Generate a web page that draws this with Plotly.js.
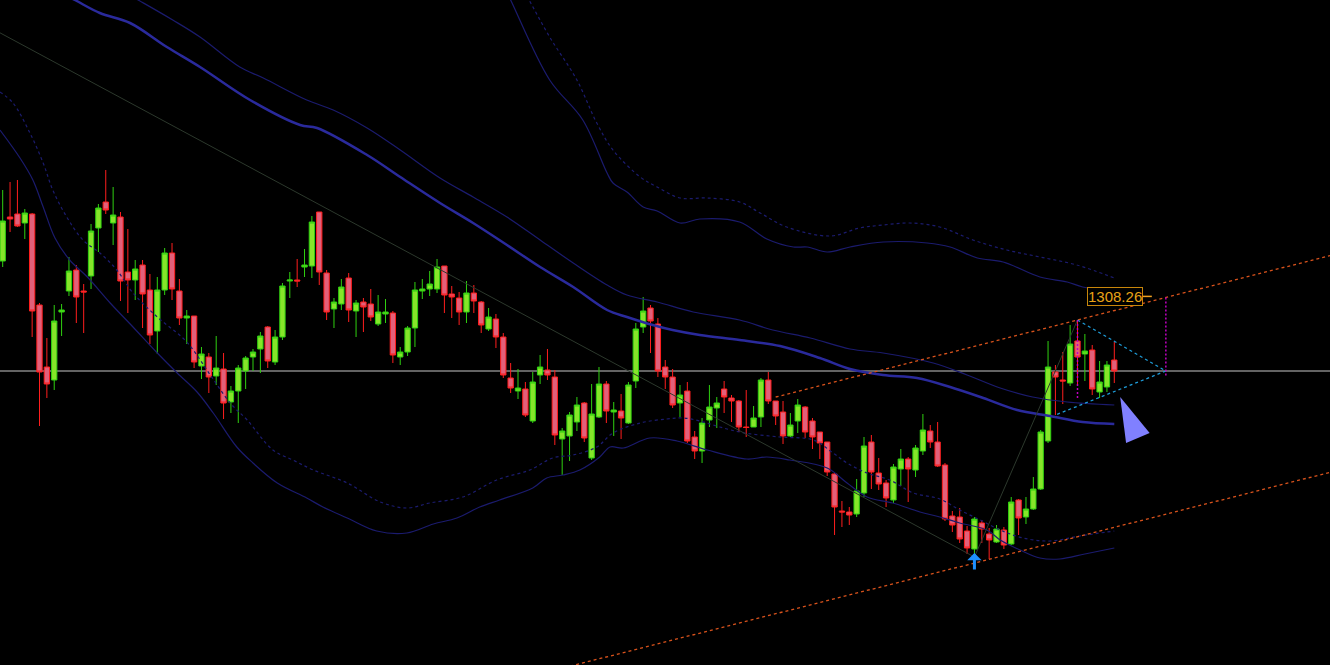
<!DOCTYPE html>
<html><head><meta charset="utf-8">
<script src="https://cdn.plot.ly/plotly-3.0.1.min.js"></script>
<style>html,body{margin:0;padding:0;background:#000;overflow:hidden}#chart{width:1330px;height:665px}</style>
</head><body><div id="chart"></div>
<script>
// ---- candles (bar index 0..151) ----
const opens = [
1311.9,1316.3,1316.6,1315.7,1316.6,1307.5,1301.3,1300.0,1306.8,1308.9,
1311.0,1308.9,1310.4,1315.2,1317.8,1315.7,1316.3,1310.8,1310.0,1311.5,
1309.0,1304.9,1309.0,1312.7,1308.9,1306.2,1306.4,1301.4,1302.3,1300.4,
1301.1,1297.8,1298.9,1300.9,1302.3,1303.1,1305.3,1301.8,1304.3,1309.9,
1310.0,1311.3,1311.4,1316.8,1310.7,1307.1,1307.6,1310.2,1306.9,1307.8,
1307.6,1305.6,1306.6,1306.7,1302.3,1302.8,1305.2,1308.9,1309.1,1309.1,
1311.4,1308.6,1308.2,1306.8,1308.7,1307.8,1305.1,1306.1,1304.3,1300.2,
1298.9,1299.1,1295.9,1300.5,1301.0,1300.3,1294.1,1294.4,1295.8,1297.7,
1292.2,1296.3,1299.6,1296.8,1296.9,1295.7,1299.9,1305.3,1307.2,1305.6,
1301.3,1300.3,1297.7,1298.9,1294.3,1292.9,1296.0,1297.2,1299.1,1298.2,
1297.9,1295.3,1295.3,1296.3,1300.0,1297.9,1296.8,1294.4,1295.9,1297.3,
1295.9,1294.8,1293.8,1290.6,1286.9,1286.8,1286.6,1288.7,1293.8,1290.7,
1289.7,1288.0,1291.1,1292.1,1291.0,1292.9,1294.9,1293.8,1291.5,1286.4,
1286.3,1284.9,1283.1,1285.7,1284.6,1283.8,1285.0,1283.6,1288.0,1286.3,
1287.1,1289.1,1293.9,1300.8,1300.0,1299.7,1303.9,1302.6,1303.0,1298.8,
1299.3,1302.0];
const closes = [
1315.9,1316.1,1315.4,1316.7,1306.9,1300.8,1299.6,1305.9,1307.0,1310.9,
1308.3,1308.8,1314.9,1317.2,1317.0,1316.5,1309.9,1310.0,1311.1,1308.6,
1304.5,1309.0,1312.7,1309.1,1306.2,1306.4,1301.8,1302.6,1300.3,1301.2,
1297.7,1298.9,1301.2,1302.2,1302.8,1304.4,1301.9,1304.3,1309.4,1310.0,
1309.9,1311.5,1315.8,1310.8,1306.8,1307.8,1309.3,1307.0,1307.7,1307.3,
1306.3,1306.8,1306.8,1302.5,1302.8,1305.2,1309.0,1309.1,1309.6,1311.3,
1308.5,1308.3,1306.8,1308.7,1307.9,1305.5,1306.3,1304.3,1300.5,1299.2,
1299.2,1296.5,1299.8,1301.3,1300.5,1294.5,1294.9,1296.5,1297.5,1294.2,
1296.6,1299.6,1296.9,1297.0,1296.2,1299.5,1305.1,1306.9,1305.9,1300.9,
1300.3,1297.5,1298.5,1293.9,1292.9,1295.7,1297.3,1297.7,1298.3,1297.9,
1295.3,1295.25,1296.2,1300.0,1297.9,1296.4,1294.4,1295.5,1297.5,1294.8,
1294.3,1293.7,1290.8,1287.3,1286.8,1286.5,1288.9,1293.4,1290.8,1289.6,
1288.2,1291.3,1292.1,1291.1,1293.2,1295.0,1293.8,1291.4,1286.1,1285.5,
1284.1,1283.2,1286.1,1285.1,1284.0,1285.1,1283.5,1287.8,1286.2,1287.1,
1289.1,1294.8,1301.3,1300.3,1299.9,1303.6,1302.3,1302.9,1299.1,1299.8,
1301.5,1300.9];
const highs = [
1319.0,1319.8,1320.0,1317.1,1316.7,1307.7,1304.2,1307.5,1307.6,1312.3,
1311.5,1309.6,1315.6,1317.6,1321.0,1319.3,1316.8,1315.1,1312.0,1312.0,
1310.6,1310.3,1313.2,1313.7,1310.1,1307.0,1306.4,1303.3,1302.7,1304.4,
1302.7,1299.4,1301.5,1302.4,1303.1,1304.8,1305.4,1305.0,1309.7,1310.8,
1312.1,1313.1,1316.4,1316.8,1311.0,1308.2,1310.1,1310.7,1308.0,1308.2,
1309.1,1308.5,1308.1,1306.9,1303.3,1305.4,1309.8,1310.1,1310.9,1312.1,
1311.4,1309.4,1308.8,1309.9,1309.5,1307.9,1307.2,1306.6,1304.7,1301.7,
1301.1,1299.8,1300.8,1302.5,1303.1,1301.0,1295.2,1296.8,1298.3,1297.8,
1299.6,1301.3,1299.9,1297.8,1298.6,1299.8,1305.7,1308.3,1307.5,1306.2,
1302.0,1301.1,1299.5,1299.8,1294.9,1296.2,1299.5,1298.3,1299.9,1298.5,
1298.0,1299.0,1297.4,1300.2,1300.8,1297.9,1297.9,1296.7,1298.1,1297.4,
1296.2,1294.8,1293.8,1290.7,1287.9,1287.3,1290.1,1294.3,1294.5,1292.2,
1290.0,1291.6,1293.1,1292.3,1293.5,1296.6,1295.5,1295.8,1291.7,1286.9,
1287.2,1285.4,1286.3,1286.0,1285.2,1285.5,1285.3,1288.3,1288.1,1288.3,
1290.3,1295.0,1303.9,1301.5,1302.8,1305.5,1306.0,1304.6,1303.5,1301.9,
1301.9,1303.8];
const lows = [
1311.3,1314.8,1315.3,1314.1,1304.3,1295.4,1298.2,1299.0,1304.4,1308.4,
1305.7,1304.7,1309.1,1312.8,1316.6,1313.5,1307.9,1306.7,1308.0,1305.2,
1303.6,1302.6,1308.5,1308.0,1305.5,1303.6,1301.2,1300.1,1298.7,1299.5,
1296.1,1296.7,1295.7,1299.1,1300.9,1300.7,1301.2,1301.5,1304.0,1308.2,
1309.3,1310.3,1310.2,1309.5,1306.0,1305.2,1307.0,1305.8,1304.3,1304.8,
1305.9,1305.4,1305.7,1301.7,1301.5,1302.4,1303.3,1308.1,1308.4,1308.7,
1306.7,1306.2,1305.5,1305.7,1306.7,1304.7,1304.9,1303.2,1300.2,1298.7,
1298.1,1296.3,1295.7,1299.6,1300.0,1293.5,1290.5,1291.9,1294.9,1293.8,
1292.0,1296.2,1295.7,1294.4,1294.1,1295.6,1299.2,1304.7,1302.7,1300.3,
1299.1,1297.2,1296.3,1293.7,1292.1,1291.7,1295.3,1295.2,1296.7,1295.8,
1294.8,1294.3,1295.3,1295.3,1297.6,1295.5,1293.6,1294.3,1294.7,1294.2,
1293.1,1292.1,1290.4,1284.5,1285.3,1285.5,1286.3,1288.3,1289.1,1289.0,
1287.3,1287.7,1289.4,1287.8,1290.3,1292.5,1293.2,1291.3,1285.9,1284.8,
1283.7,1282.6,1282.3,1283.7,1282.1,1283.7,1283.1,1283.5,1284.5,1285.6,
1287.0,1289.0,1293.7,1296.5,1297.6,1299.4,1299.6,1299.9,1298.5,1298.2,
1298.8,1299.7];

// ---- band indicator lines (sampled at bar positions) ----
const bandAX = [66.9,69.0,74.3,78.8,82.1,82.9,84.8,87.0,88.9,92.0,94.7,100.1,103.8,107.4,109.3,112.0,115.1,119.6,125.6,128.7,132.4,135.9,140.9,144.6,146.7,151];
const bandAY = [1341.3,1338.0,1330.0,1326.0,1320.7,1319.7,1318.8,1317.3,1316.9,1315.7,1316.1,1315.8,1314.1,1313.3,1313.3,1312.8,1313.3,1313.8,1313.7,1313.3,1312.2,1311.8,1310.3,1309.8,1309.3,1308.8];
const bandBX = [69.2,71.5,74.3,78.0,80.7,82.9,86.6,88.9,92.0,95.7,100.1,102.9,106.5,112.4,116.4,119.6,123.2,127.3,131.8,136.4,140.9,145.9,151];
const bandBY = [1341.0,1338.0,1334.3,1330.0,1325.7,1323.0,1320.3,1319.3,1318.2,1318.2,1317.8,1316.7,1315.3,1314.4,1315.2,1315.5,1315.7,1315.3,1314.0,1313.0,1312.3,1311.5,1310.2];
const bandCX = [14.8,18.4,23.1,26.8,32.2,35.4,41.3,44.9,49.5,54.0,59.4,63.9,68.5,73.0,77.5,82.1,84.8,88.9,93.8,100.1,104.6,109.7,115.1,119.6,126.4,131.0,135.5,139.9,144.6,151];
const bandCY = [1339.5,1338.0,1336.0,1334.3,1331.3,1330.2,1328.0,1327.0,1325.2,1323.0,1320.2,1318.3,1316.3,1314.0,1311.7,1309.5,1308.5,1307.8,1306.8,1306.0,1305.0,1304.2,1303.1,1302.7,1301.7,1300.5,1299.2,1298.3,1297.8,1297.5];
const bandDX = [6.4,9.8,13.2,17.3,22.3,26.8,33.6,40.4,42.7,49.5,54.0,59.4,63.9,68.5,73.0,77.5,82.1,84.8,88.3,91.0,94.7,100.1,105.6,111.0,115.1,119.6,124.2,128.7,133.2,137.8,142.3,146.7,151];
const bandDY = [1339.3,1338.0,1336.7,1335.7,1333.3,1331.3,1328.0,1325.5,1325.2,1322.5,1320.3,1317.7,1315.7,1313.5,1311.3,1309.3,1307.0,1306.3,1305.5,1305.0,1304.5,1304.0,1303.4,1302.2,1301.1,1300.5,1300.2,1299.3,1298.2,1297.0,1296.4,1295.8,1295.6];
const bandEX = [-0.37,1.4,3.7,5.5,6.8,8.7,10.9,13.2,15.5,17.7,21.0,25.0,28.2,30.9,33.2,36.7,39.4,42.2,46.8,51.3,54.9,58.0,62.5,67.1,71.6,74.7,77.5,80.7,82.9,86.6,90.2,92.4,94.7,97.4,100.8,105.6,110.1,112.8,114.7,117.4,120.5,123.7,127.3,130.0,132.8,135.5,138.6,142.3,146.3,151];
const bandEY = [1328.8,1327.7,1324.7,1321.7,1319.0,1316.3,1314.0,1312.7,1311.0,1308.7,1306.3,1303.8,1300.5,1297.7,1296.0,1293.0,1292.0,1291.0,1289.7,1287.8,1287.2,1287.7,1288.3,1290.0,1291.0,1292.2,1292.5,1293.3,1294.7,1295.7,1296.1,1296.2,1295.9,1295.3,1294.7,1294.3,1294.0,1292.7,1291.7,1290.7,1290.0,1288.7,1288.1,1287.0,1286.0,1285.0,1284.2,1283.9,1284.4,1284.9];
const bandFX = [-0.37,2.35,4.1,5.5,7.1,9.1,11.5,14.6,17.7,21.0,23.7,26.4,28.6,31.8,34.0,37.3,41.3,43.5,46.8,50.8,54.9,58.5,61.7,64.8,67.5,72.0,73.9,76.1,78.4,81.1,82.5,84.3,87.9,91.6,95.7,101.1,103.8,106.9,112.0,114.7,117.4,120.9,124.6,127.3,130.0,133.7,135.5,138.2,140.9,143.6,147.0,151];
const bandFY = [1325.0,1322.2,1320.0,1317.3,1314.2,1312.0,1310.3,1307.7,1305.3,1302.7,1300.7,1298.8,1296.7,1293.3,1291.7,1289.7,1288.2,1287.3,1286.2,1284.9,1284.7,1285.6,1286.2,1287.3,1288.0,1289.2,1290.2,1290.5,1291.0,1292.3,1293.3,1293.2,1294.2,1293.9,1293.0,1292.1,1292.3,1292.0,1291.2,1289.7,1288.3,1287.7,1286.8,1286.3,1285.7,1285.0,1284.0,1283.0,1282.2,1282.1,1282.6,1283.2];

// ---- drawn objects ----
const zigX = [-5, 132, 146];
const zigY = [1336.55, 1282.3, 1306.0];
const chUpX = [105, 181];
const chUpY = [1298.3, 1312.57];
const chLoX = [70, 181];
const chLoY = [1270.05, 1290.9];
const triX = [146, 158, 143];
const triY = [1306.0, 1300.9, 1296.5];
const vert1X = [146, 146];
const vert1Y = [1306.0, 1298.0];
const vert2X = [158, 158];
const vert2Y = [1308.26, 1300.3];
const markX = [151.8, 155.8, 152.6];
const markY = [1298.3, 1294.7, 1293.7];
const labelValue = 1308.26;
const labelIdx = 158;
const arrowIdx = 132;

const idx = opens.map((_, i) => i);
const lastClose = closes[closes.length - 1];

const thin = '#1B1B6E', thick = '#2A2A9C';
const traces = [
  {x: bandAX, y: bandAY, mode: 'lines', line: {color: thin, width: 1.2, shape: 'spline'}},
  {x: bandBX, y: bandBY, mode: 'lines', line: {color: thin, width: 1.2, dash: '3px,3px', shape: 'spline'}},
  {x: bandCX, y: bandCY, mode: 'lines', line: {color: thin, width: 1.2, shape: 'spline'}},
  {x: bandDX, y: bandDY, mode: 'lines', line: {color: thick, width: 2.5, shape: 'spline'}},
  {x: bandEX, y: bandEY, mode: 'lines', line: {color: thin, width: 1.2, dash: '3px,3px', shape: 'spline'}},
  {x: bandFX, y: bandFY, mode: 'lines', line: {color: thin, width: 1.2, shape: 'spline'}},
  {x: zigX, y: zigY, mode: 'lines', line: {color: '#2C382C', width: 1}},
  {type: 'candlestick', x: idx, open: opens, high: highs, low: lows, close: closes,
   increasing: {line: {color: '#2FD010', width: 1}, fillcolor: '#86E52A'},
   decreasing: {line: {color: '#FF1E1E', width: 1}, fillcolor: '#E2607A'},
   whiskerwidth: 0},
  {x: chUpX, y: chUpY, mode: 'lines', line: {color: '#D8521C', width: 1.3, dash: '3px,3px'}},
  {x: chLoX, y: chLoY, mode: 'lines', line: {color: '#D8521C', width: 1.3, dash: '3px,3px'}},
  {x: triX, y: triY, mode: 'lines', line: {color: '#1E9BD7', width: 1.3, dash: '3px,3px'}},
  {x: vert1X, y: vert1Y, mode: 'lines', line: {color: '#C000C0', width: 1.5, dash: '2px,2px'}},
  {x: vert2X, y: vert2Y, mode: 'lines', line: {color: '#C000C0', width: 1.5, dash: '2px,2px'}},
  {x: markX, y: markY, mode: 'lines', fill: 'toself', fillcolor: '#8080FF', line: {width: 0, color: '#8080FF'}}
];

const layout = {
  width: 1330, height: 665,
  margin: {l: 0, r: 0, t: 0, b: 0, pad: 0},
  paper_bgcolor: '#000', plot_bgcolor: '#000',
  showlegend: false,
  boxgap: 0.15, boxgroupgap: 0.15,
  xaxis: {range: [-0.367, 180.3], visible: false, showgrid: false, zeroline: false, rangeslider: {visible: false}, fixedrange: true},
  yaxis: {range: [1271.5, 1338.0], visible: false, showgrid: false, zeroline: false, fixedrange: true},
  shapes: [
    {type: 'line', xref: 'paper', x0: 0, x1: 1, yref: 'y', y0: lastClose, y1: lastClose, line: {color: '#858585', width: 1.6}, layer: 'below'},
    {type: 'line', xref: 'x', xsizemode: 'pixel', xanchor: labelIdx, x0: -23, x1: -14, yref: 'y', y0: labelValue + 0.1, y1: labelValue + 0.1, line: {color: '#F0A020', width: 1.5}}
  ],
  annotations: [
    {x: labelIdx, y: labelValue, xref: 'x', yref: 'y', xanchor: 'right', yanchor: 'middle', xshift: -23, yshift: 1,
     text: labelValue.toFixed(2), showarrow: false,
     font: {family: 'Liberation Sans, Arial, sans-serif', size: 15, color: '#E8A317'},
     bgcolor: '#000', bordercolor: '#C8860A', borderwidth: 1, borderpad: 0},
    {x: arrowIdx, y: lows[arrowIdx] + 0.4, xref: 'x', yref: 'y', ax: 0, ay: 18, text: '', showarrow: true,
     arrowhead: 1, arrowsize: 0.8, arrowwidth: 3, arrowcolor: '#1E90FF'}
  ]
};

Plotly.newPlot('chart', traces, layout, {staticPlot: true, displayModeBar: false});
</script>
</body></html>
